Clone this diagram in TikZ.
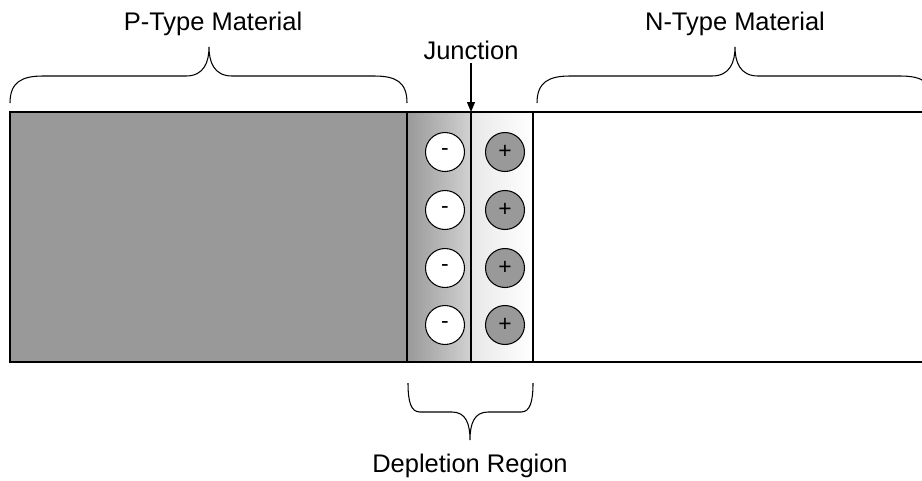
\documentclass[tikz,border=0pt]{standalone}
\usepackage{fontspec}
\setmainfont{Liberation Sans}
\usetikzlibrary{arrows.meta}

\begin{document}
\begin{tikzpicture}[
    x=0.02cm, y=-0.02cm,
    label/.style={font=\fontsize{14.5}{17}\selectfont, inner sep=2pt},
    charge/.style={circle, draw=black, line width=0.6pt, minimum size=0.78cm,
                   inner sep=0pt, font=\fontsize{13}{15}\selectfont},
    brace/.style={line width=0.6pt},
    arrow/.style={-{Triangle[length=2mm, width=1.6mm]}, line width=0.6pt}
]
    \useasboundingbox (0,0) rectangle (922,480);
    \clip (0,0) rectangle (922,480);

    % material blocks
    \fill[black!40] (10,112) rectangle (407,362);
    \shade[left color=black!40, right color=black!18] (407,112) rectangle (471,362);
    \shade[left color=black!9, right color=white] (471,112) rectangle (533,362);
    \draw[line width=0.6pt] (10,112) rectangle (950,362);
    \draw[line width=0.6pt] (407,112) -- (407,362)
                            (471,112) -- (471,362)
                            (533,112) -- (533,362);

    % fixed charges
    \foreach \i/\y in {1/152, 2/210, 3/268, 4/325} {
        \node[charge, fill=white] (minus\i) at (445,\y) {-};
        \node[charge, fill=black!40] (plus\i) at (505,\y) {+};
    }

    % braces
    \draw[brace] (10,103) .. controls (10,82) and (22,76) .. (43,76) -- (186,76)
        .. controls (204,76) and (209,62) .. (209,47)
        .. controls (209,62) and (214,76) .. (232,76) -- (374,76)
        .. controls (396,76) and (407,82) .. (407,103);
    \draw[brace] (537,103) .. controls (537,82) and (549,76) .. (570,76) -- (712,76)
        .. controls (730,76) and (735,62) .. (735,47)
        .. controls (735,62) and (740,76) .. (758,76) -- (900,76)
        .. controls (922,76) and (933,82) .. (933,103);
    \draw[brace] (408,383) .. controls (408,402) and (411,412) .. (420,412) -- (452,412)
        .. controls (466,412) and (470,424) .. (470,440)
        .. controls (470,424) and (474,412) .. (488,412) -- (521,412)
        .. controls (530,412) and (533,402) .. (533,383);

    % labels
    \node[label] (ptype) at (213,24) {P-Type Material};
    \node[label] (ntype) at (735,24) {N-Type Material};
    \node[label] (junction) at (471,50) {Junction};
    \node[label] (depletion) at (470,466) {Depletion Region};

    \coordinate (jtop) at (471,112);
    \draw[arrow] (junction) -- (jtop);
\end{tikzpicture}
\end{document}
